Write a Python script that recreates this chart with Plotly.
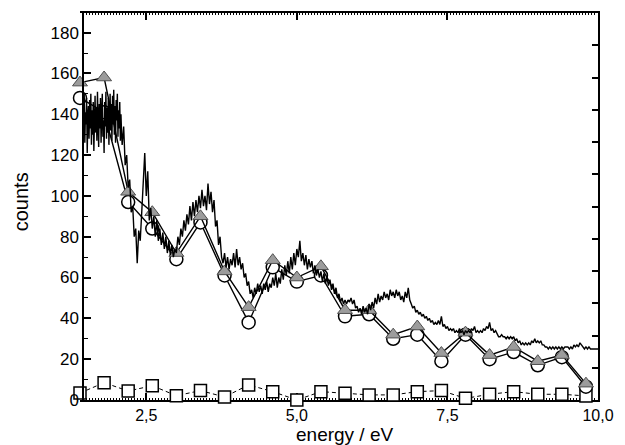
import numpy as np
import plotly.graph_objects as go

# Measured spectrum, part 1: fine grid over the noisy low-energy band
fine_start = 1.45
fine_step = 0.01
fine_counts = [
    145, 132, 150, 126, 141, 135, 148, 121, 139, 144,
    128, 147, 133, 150, 125, 142, 130, 146, 122, 138,
    149, 131, 143, 127, 151, 136, 124, 145, 133, 148,
    126, 140, 150, 129, 137, 121, 146, 134, 151, 128,
    143, 131, 148, 125, 139, 150, 132, 145, 127, 149,
    135, 152, 130, 144, 126, 147, 137, 150, 129, 142,
    133, 146, 127, 140, 131,
]

# Measured spectrum, part 2: coarser grid from 2.1 eV upward
coarse_start = 2.1
coarse_step = 0.025
coarse_counts = [
    125, 134, 115, 120, 104, 108, 92, 95, 80, 84, 67, 83, 78, 92, 104, 121,
    100, 112, 88, 94, 84, 90, 80, 88, 78, 84, 76, 82, 74, 80, 72, 78, 71, 76, 70, 74,
    72, 80, 76, 84, 80, 88, 83, 91, 86, 95, 88, 97, 90, 98, 92, 100, 94, 103, 95, 100,
    93, 106, 96, 102, 92, 98, 85, 88, 76, 80, 70, 67, 72, 65, 70, 64, 69, 66, 72, 65,
    74, 66, 70, 64, 67, 60, 62, 56, 58, 52, 54, 50, 55, 52, 57, 53, 56, 52, 57, 54,
    58, 53, 57, 55, 60, 56, 62, 55, 60, 57, 64, 59, 66, 61, 68, 62, 70, 64, 72, 66,
    74, 70, 78, 68, 72, 66, 71, 64, 69, 65, 68, 62, 66, 61, 64, 60, 63, 58, 62, 57,
    60, 56, 59, 54, 57, 52, 55, 50, 52, 48, 50, 47, 49, 47, 49, 48, 50, 47, 49, 45,
    46, 43, 45, 42, 46, 43, 45, 42, 47, 44, 48, 45, 50, 47, 52, 48, 51, 49, 53, 50,
    52, 49, 54, 51, 53, 50, 54, 51, 53, 49, 51, 48, 53, 50, 55, 49, 47, 45, 46, 43,
    44, 42, 43, 41, 42, 40, 41, 39, 40, 38, 39, 37, 38, 37, 39, 37, 41, 36, 37, 35,
    36, 34, 35, 34, 35, 33, 34, 33, 35, 33, 34, 32, 34, 33, 34, 33, 35, 34, 36, 33,
    34, 33, 34, 33, 35, 34, 36, 35, 38, 34, 35, 33, 34, 32, 31, 31, 32, 31, 31, 30,
    31, 30, 31, 30, 31, 29, 30, 28, 29, 27, 28, 27, 28, 27, 28, 27, 29, 28, 30, 28,
    29, 28, 29, 27, 27, 26, 26, 25, 26, 25, 26, 25, 26, 25, 26, 25, 26, 25, 26, 26,
    26, 25, 26, 25, 27, 26, 27, 26, 28, 27, 26, 25, 26, 25, 26, 25, 25, 25, 25, 25,
    25,
]

spec_energy = np.concatenate([
    fine_start + fine_step * np.arange(len(fine_counts)),
    coarse_start + coarse_step * np.arange(len(coarse_counts)),
])
spec_counts = fine_counts + coarse_counts

# Calculated values on a 0.4 eV grid
calc_energy = [1.4, 1.8, 2.2, 2.6, 3.0, 3.4, 3.8, 4.2, 4.6, 5.0, 5.4,
               5.8, 6.2, 6.6, 7.0, 7.4, 7.8, 8.2, 8.6, 9.0, 9.4, 9.8]
calc_circles = [148, 141, 97, 84, 69, 87, 61, 38, 65, 58, 61,
                41, 42, 30, 32, 19, 32, 20, 23.5, 17, 21, 6.5]
calc_triangles = [155.5, 158, 102, 92, 72, 90, 63, 45.5, 68.5, 60, 65.5,
                  44, 44, 32, 36, 23, 33, 22, 26, 19, 22, 8]
calc_squares = [3.4, 8.5, 4.4, 7.0, 2.1, 4.6, 1.5, 7.4, 4.1, 0.0, 4.1,
                3.3, 2.5, 2.5, 4.1, 4.6, 0.8, 2.8, 4.1, 2.8, 2.8, 2.0]

x_ticks = [2.5, 5.0, 7.5, 10.0]

fig = go.Figure()

fig.add_trace(go.Scatter(
    x=calc_energy, y=calc_squares, mode="lines+markers", cliponaxis=False,
    line=dict(color="black", width=1, dash="4px,3px"),
    marker=dict(symbol="square", size=12, color="white",
                line=dict(color="black", width=1.5)),
    showlegend=False))

fig.add_trace(go.Scatter(
    x=calc_energy, y=calc_circles, mode="lines+markers", cliponaxis=False,
    line=dict(color="black", width=1.4),
    marker=dict(symbol="circle", size=13, color="white",
                line=dict(color="black", width=1.5)),
    showlegend=False))

fig.add_trace(go.Scatter(
    x=calc_energy, y=calc_triangles, mode="lines+markers", cliponaxis=False,
    line=dict(color="black", width=1.4),
    marker=dict(symbol="triangle-up", size=13, color="#9c9c9c",
                line=dict(color="#505050", width=1)),
    showlegend=False))

fig.add_trace(go.Scatter(
    x=spec_energy, y=spec_counts, mode="lines",
    line=dict(color="black", width=1.4),
    showlegend=False))

# carrier for the right-hand tick axis
fig.add_trace(go.Scatter(x=[None], y=[None], yaxis="y2", showlegend=False,
                         hoverinfo="skip"))

font_family = "Liberation Sans, Arial, sans-serif"
x_tick_font = dict(family=font_family, size=16, color="black")
y_tick_font = dict(family=font_family, size=17, color="black")

fig.update_layout(
    width=625, height=445,
    margin=dict(l=80, r=27, t=13, b=45, autoexpand=False),
    paper_bgcolor="white", plot_bgcolor="white",
    separators=",.",
    font=x_tick_font,
    xaxis=dict(
        range=[1.4, 10.0], tickvals=x_ticks, tickformat=".1f",
        ticks="inside", ticklen=7, tickwidth=1.5, tickcolor="black",
        minor=dict(ticks="inside", dtick=0.05, ticklen=2, tickwidth=1, tickcolor="black"),
        showline=True, linecolor="black", linewidth=1.6, mirror="ticks",
        layer="below traces",
        showgrid=False, zeroline=False, tickfont=x_tick_font),
    yaxis=dict(
        range=[0, 189.6], dtick=20, tick0=0,
        anchor="free", position=0.006,
        ticks="inside", ticklen=7, tickwidth=1.5, tickcolor="black",
        minor=dict(ticks="inside", dtick=10, ticklen=4, tickwidth=1, tickcolor="black"),
        showline=True, linecolor="black", linewidth=1.6,
        showgrid=False, zeroline=False, tickfont=y_tick_font),
    yaxis2=dict(
        overlaying="y", side="right", range=[0, 12], dtick=1,
        ticks="inside", ticklen=6, tickwidth=1.5, tickcolor="black",
        showticklabels=False, showline=True, linecolor="black", linewidth=1.6,
        showgrid=False, zeroline=False),
    annotations=[
        dict(text="energy / eV", xref="paper", yref="paper", x=0.51, y=-0.056,
             xanchor="center", yanchor="top", showarrow=False,
             font=dict(family=font_family, size=19, color="black")),
        dict(text="counts", xref="paper", yref="paper", x=-0.115, y=0.512,
             xanchor="center", yanchor="middle", textangle=-90, showarrow=False,
             font=dict(family=font_family, size=20, color="black")),
    ],
)

fig.write_html("out.html")
